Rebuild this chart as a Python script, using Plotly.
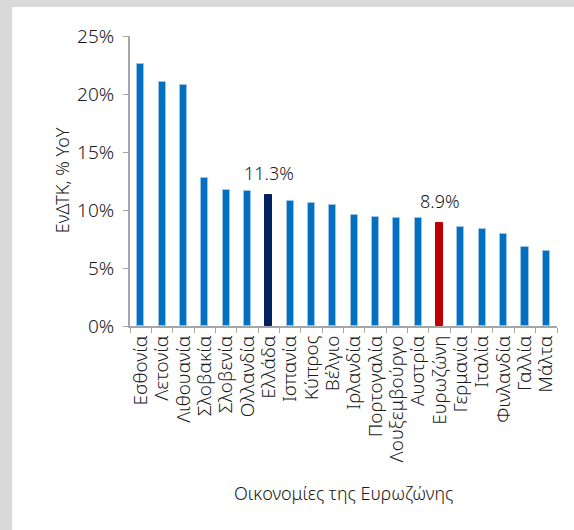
import plotly.graph_objects as go

categories = ["Εσθονία", "Λετονία", "Λιθουανία", "Σλοβακία", "Σλοβενία", "Ολλανδία",
              "Ελλάδα", "Ισπανία", "Κύπρος", "Βέλγιο", "Ιρλανδία", "Πορτογαλία",
              "Λουξεμβούργο", "Αυστρία", "Ευρωζώνη", "Γερμανία", "Ιταλία",
              "Φινλανδία", "Γαλλία", "Μάλτα"]
values = [22.6, 21.0, 20.8, 12.8, 11.7, 11.6, 11.3, 10.8, 10.6, 10.4, 9.6, 9.4,
          9.3, 9.3, 8.9, 8.5, 8.4, 7.9, 6.8, 6.5]
highlight = {"Ελλάδα": "#002060", "Ευρωζώνη": "#C00000"}
labelled = ["Ελλάδα", "Ευρωζώνη"]
y_ticks = [0, 5, 10, 15, 20, 25]

colors = [highlight.get(c, "#0070C0") for c in categories]
line_colors = [highlight.get(c, "#9DC3E6") for c in categories]

FONT = "Noto Sans"
TXT = "#1A1A1A"
W = 300

fig = go.Figure()
fig.add_trace(go.Bar(
    x=categories, y=values, width=0.33,
    marker=dict(color=colors, line=dict(color=line_colors, width=1)),
    hoverinfo="x+y",
))

for c in labelled:
    v = values[categories.index(c)]
    fig.add_annotation(x=c, y=v, text=f"{v:.1f}%", showarrow=False,
                       yanchor="bottom", yshift=8,
                       font=dict(family=FONT, size=18, color=TXT, weight=W))

# axis titles
fig.add_annotation(xref="paper", yref="paper", x=-0.159, y=0.503,
                   text="ΕνΔΤΚ, % YoY", textangle=-90, showarrow=False,
                   xanchor="center", yanchor="middle",
                   font=dict(family=FONT, size=18, color=TXT, weight=W))
fig.add_annotation(xref="paper", yref="paper", x=0.5, y=-0.576,
                   text="Οικονομίες της Ευρωζώνης", showarrow=False,
                   xanchor="center", yanchor="middle",
                   font=dict(family=FONT, size=18, color=TXT, weight=W))

# gray frame strips on the left and top
fig.add_shape(type="rect", xref="paper", yref="paper",
              x0=-0.31, x1=-0.276, y0=-0.72, y1=1.13,
              fillcolor="#D9D9D9", line=dict(width=0), layer="below")
fig.add_shape(type="rect", xref="paper", yref="paper",
              x0=-0.31, x1=1.05, y0=1.1, y1=1.13,
              fillcolor="#D9D9D9", line=dict(width=0), layer="below")

fig.update_layout(
    width=574, height=530,
    margin=dict(l=130, r=17, t=36, b=204),
    paper_bgcolor="white", plot_bgcolor="white",
    font=dict(family=FONT, size=18, color=TXT),
    showlegend=False, bargap=0,
    xaxis=dict(
        tickmode="array", tickvals=categories, ticktext=categories,
        tickangle=-90, tickson="boundaries", ticks="outside", ticklen=5,
        tickcolor="#A6A6A6", showline=True, linecolor="#A6A6A6", linewidth=2,
        tickfont=dict(family=FONT, size=19, color=TXT, weight=W),
        range=[-0.5, len(categories) - 0.5],
    ),
    yaxis=dict(
        range=[0, 25], tickvals=y_ticks, ticktext=[f"{t}%" for t in y_ticks],
        ticks="outside", ticklen=5, tickcolor="#A6A6A6", ticklabelstandoff=5,
        showline=True, linecolor="#A6A6A6", linewidth=2, showgrid=False,
        zeroline=False, tickfont=dict(family=FONT, size=19, color=TXT, weight=W),
    ),
)

fig.write_html("out.html")
